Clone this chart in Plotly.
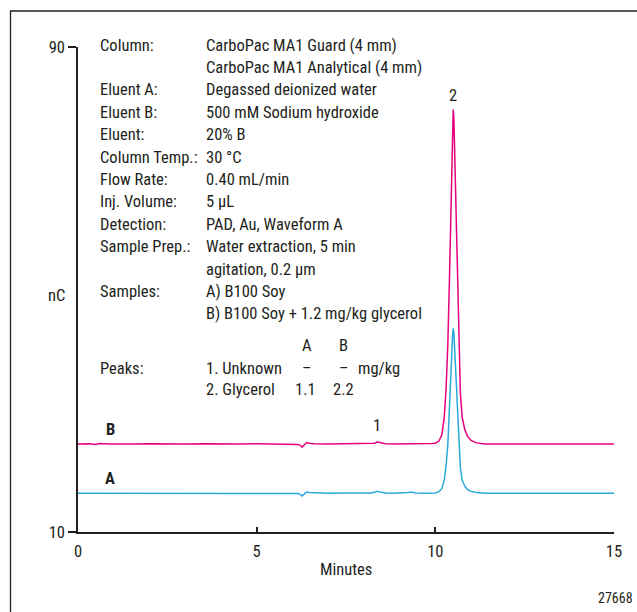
import plotly.graph_objects as go

# ---------------- data ----------------
time_b = [0.0, 0.3, 0.5, 0.6, 0.9, 1.2, 1.5, 2.0, 2.5, 3.0, 3.5, 4.0, 4.5, 5.0, 5.5, 6.0, 6.15,
          6.22, 6.27, 6.33, 6.40, 6.47, 6.6, 7.0, 7.5, 8.0, 8.2, 8.3, 8.38, 8.46, 8.6, 8.8,
          9.2, 9.6, 9.9, 10.0, 10.10, 10.18, 10.25, 10.30, 10.35, 10.40, 10.45, 10.48,
          10.50, 10.52, 10.55, 10.60, 10.65, 10.70, 10.75, 10.82, 10.90, 11.0, 11.15,
          11.4, 12.0, 12.5, 13.0, 13.5, 14.0, 14.5, 15.0]
signal_b = [24.5, 24.55, 24.45, 24.6, 24.5, 24.55, 24.5, 24.55, 24.5, 24.5, 24.55, 24.5, 24.5, 24.55, 24.5, 24.5, 24.45,
            24.3, 24.0, 24.35, 24.75, 24.65, 24.55, 24.5, 24.55, 24.5, 24.55, 24.65, 24.85, 24.7, 24.55, 24.5,
            24.5, 24.55, 24.6, 24.65, 25.0, 26.0, 29.0, 33.5, 41.0, 53.0, 68.0, 77.0,
            79.7, 78.0, 70.0, 55.0, 42.0, 33.0, 29.0, 27.0, 25.8, 25.1, 24.7,
            24.5, 24.5, 24.55, 24.5, 24.5, 24.55, 24.5, 24.5]

time_a = [0.0, 0.5, 1.0, 1.5, 2.0, 2.5, 3.0, 3.5, 4.0, 4.5, 5.0, 5.5, 6.0, 6.15,
          6.22, 6.27, 6.33, 6.40, 6.47, 6.6, 7.0, 7.5, 8.0, 8.2, 8.3, 8.38, 8.46, 8.6, 8.8,
          9.1, 9.25, 9.32, 9.45, 9.7, 9.9, 10.0, 10.10, 10.18, 10.25, 10.30, 10.35, 10.40, 10.45, 10.48,
          10.50, 10.52, 10.55, 10.60, 10.65, 10.70, 10.75, 10.82, 10.90, 11.0, 11.15,
          11.4, 12.0, 12.5, 13.0, 13.5, 14.0, 14.5, 15.0]
signal_a = [16.4, 16.4, 16.45, 16.4, 16.4, 16.45, 16.4, 16.4, 16.45, 16.4, 16.4, 16.45, 16.4, 16.35,
            16.2, 15.95, 16.25, 16.6, 16.5, 16.45, 16.4, 16.45, 16.4, 16.45, 16.55, 16.7, 16.6, 16.45, 16.4,
            16.4, 16.5, 16.6, 16.45, 16.4, 16.45, 16.45, 16.65, 17.15, 18.6, 20.85, 24.5, 30.4, 37.9, 42.3,
            43.6, 42.8, 38.9, 31.5, 25.1, 20.6, 18.6, 17.6, 17.0, 16.7, 16.5,
            16.4, 16.4, 16.45, 16.4, 16.4, 16.45, 16.4, 16.4]

x_ticks = [0, 5, 10, 15]
y_ticks = [10, 90]
peak_labels = [("1", 8.38, 24.85, 5), ("2", 10.5, 79.7, 2)]

left_col = ["Column:", "", "Eluent A:", "Eluent B:", "Eluent:", "Column Temp.:", "Flow Rate:",
            "Inj. Volume:", "Detection:", "Sample Prep.:", "", "Samples:", ""]
right_col = ["CarboPac MA1 Guard (4 mm)", "CarboPac MA1 Analytical (4 mm)", "Degassed deionized water",
             "500 mM Sodium hydroxide", "20% B", "30 °C", "0.40 mL/min", "5 µL", "PAD, Au, Waveform A",
             "Water extraction, 5 min", "agitation, 0.2 µm", "A) B100 Soy", "B) B100 Soy + 1.2 mg/kg glycerol"]

# ---------------- layout helpers ----------------
W, H = 637, 612
L, R, T, B = 78, 614, 47, 532
def pxx(x):
    return (x - L) / (R - L)
def pxy(y):
    return (B - y) / (B - T)

FONT = "Roboto Condensed, DejaVu Sans Condensed, Roboto, sans-serif"
FS = 16.5
TXT = "#231f20"
BLUE = "#2aa9dd"
PINK = "#e6007e"

fig = go.Figure()
fig.add_trace(go.Scatter(x=time_a, y=signal_a, mode="lines", line=dict(color=BLUE, width=1.5),
                         showlegend=False, hoverinfo="skip"))
fig.add_trace(go.Scatter(x=time_b, y=signal_b, mode="lines", line=dict(color=PINK, width=1.5),
                         showlegend=False, hoverinfo="skip"))

ann = []
row_y0, row_dy = 45, 22.4
for i, (lt, rt) in enumerate(zip(left_col, right_col)):
    yy = row_y0 + i * row_dy
    if lt:
        ann.append(dict(text=lt, x=pxx(98), y=pxy(yy)))
    ann.append(dict(text=rt, x=pxx(204), y=pxy(yy)))

ann += [
    dict(text="A", x=pxx(300), y=pxy(345)),
    dict(text="B", x=pxx(337), y=pxy(345)),
    dict(text="Peaks:", x=pxx(98), y=pxy(368)),
    dict(text="1. Unknown", x=pxx(204), y=pxy(368)),
    dict(text="–", x=pxx(300), y=pxy(368)),
    dict(text="–", x=pxx(337), y=pxy(368)),
    dict(text="mg/kg", x=pxx(356), y=pxy(368)),
    dict(text="2. Glycerol", x=pxx(204), y=pxy(390)),
    dict(text="1.1", x=pxx(293), y=pxy(390)),
    dict(text="2.2", x=pxx(331), y=pxy(390)),
]
annotations = []
for a in ann:
    a.update(xref="paper", yref="paper", xanchor="left", yanchor="middle", showarrow=False,
             font=dict(family=FONT, size=FS, color=TXT))
    annotations.append(a)

for txt, xv, yv, sh in peak_labels:
    annotations.append(dict(text=txt, x=xv, y=yv, xref="x", yref="y", yshift=sh,
                            xanchor="center", yanchor="bottom", showarrow=False,
                            font=dict(family=FONT, size=FS, color=TXT)))

annotations += [
    dict(text="<b>B</b>", x=pxx(110), y=pxy(429), xref="paper", yref="paper", xanchor="center",
         yanchor="middle", showarrow=False, font=dict(family=FONT, size=FS, color=TXT)),
    dict(text="<b>A</b>", x=pxx(110), y=pxy(478), xref="paper", yref="paper", xanchor="center",
         yanchor="middle", showarrow=False, font=dict(family=FONT, size=FS, color=TXT)),
    dict(text="nC", x=pxx(56), y=pxy(295), xref="paper", yref="paper", xanchor="center",
         yanchor="middle", showarrow=False, font=dict(family=FONT, size=FS, color=TXT)),
    dict(text="Minutes", x=pxx(346), y=pxy(569), xref="paper", yref="paper", xanchor="center",
         yanchor="middle", showarrow=False, font=dict(family=FONT, size=FS, color=TXT)),
    dict(text="27668", x=pxx(635), y=pxy(598), xref="paper", yref="paper", xanchor="right",
         yanchor="middle", showarrow=False, font=dict(family=FONT, size=14, color=TXT)),
]

shapes = [dict(type="rect", xref="paper", yref="paper", x0=pxx(10.5), x1=pxx(660),
               y0=pxy(640), y1=pxy(11), line=dict(color=TXT, width=1.3),
               fillcolor="rgba(0,0,0,0)", layer="below")]

fig.update_layout(
    width=W, height=H, margin=dict(l=L, r=W - R, t=T, b=H - B),
    paper_bgcolor="white", plot_bgcolor="white",
    annotations=annotations, shapes=shapes,
    font=dict(family=FONT, size=FS, color=TXT),
)
fig.update_xaxes(range=[0, 15], tickvals=x_ticks, ticktext=[str(v) for v in x_ticks],
                 showgrid=False, zeroline=False, showline=True, linecolor=TXT, linewidth=1.5,
                 ticks="inside", ticklen=5, tickwidth=1.5, tickcolor=TXT, ticklabelstandoff=3,
                 tickfont=dict(family=FONT, size=FS, color=TXT))
fig.update_yaxes(range=[10, 90], tickvals=y_ticks, ticktext=[str(v) for v in y_ticks],
                 showgrid=False, zeroline=False, showline=True, linecolor=TXT, linewidth=1.5,
                 ticks="outside", ticklen=8, tickwidth=1.5, tickcolor=TXT,
                 tickfont=dict(family=FONT, size=FS, color=TXT))

fig.write_html("out.html", config={"displayModeBar": False},
               post_script="document.body.style.margin='0';document.body.style.overflow='hidden';")
